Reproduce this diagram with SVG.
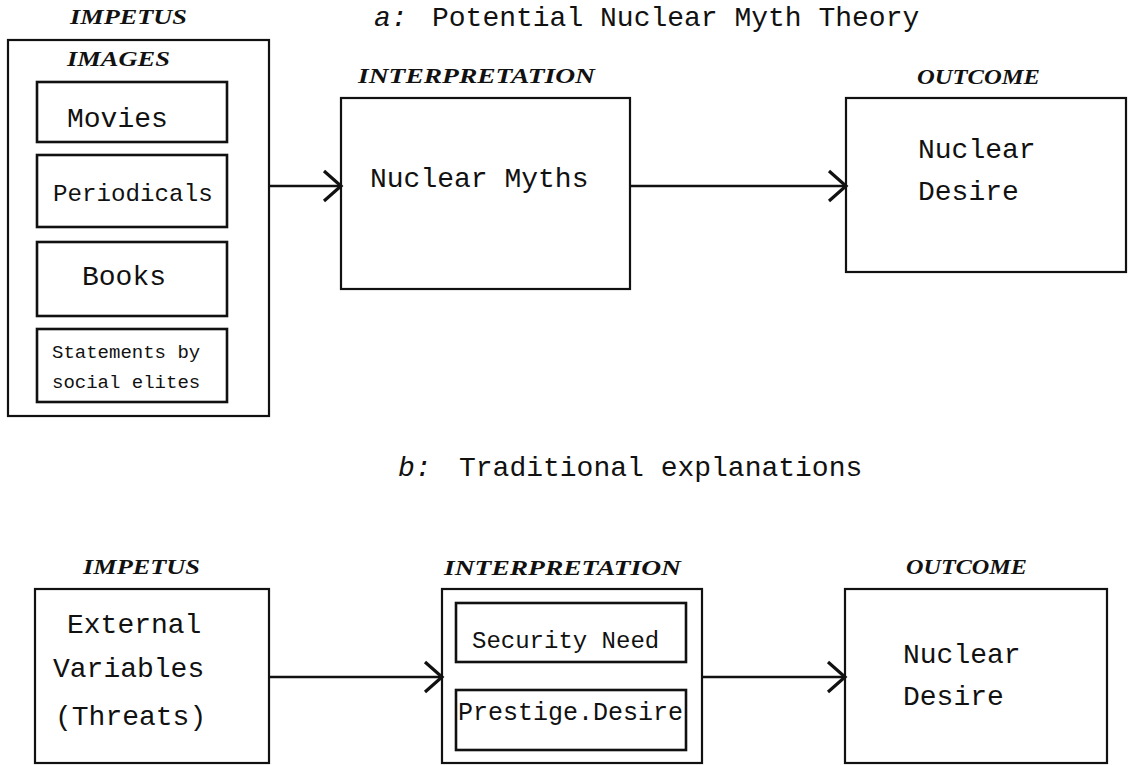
<svg xmlns="http://www.w3.org/2000/svg" width="1128" height="765" viewBox="0 0 1128 765">
<defs>
<style>
.box{fill:none;stroke:#111;stroke-width:2.2}
.ibox{fill:none;stroke:#111;stroke-width:2.6}
.t{font-family:"Liberation Mono","Courier New",monospace;fill:#111}
.lbl{font-family:"Liberation Serif","Times New Roman",serif;font-weight:bold;font-style:italic;fill:#111;font-size:21px}
.conn{fill:none;stroke:#111;stroke-width:2.4}
</style>
<marker id="arr" markerWidth="20" markerHeight="34" refX="18" refY="16" orient="auto" markerUnits="userSpaceOnUse" overflow="visible">
<path d="M1 1 L18 16 L1 31" fill="none" stroke="#111" stroke-width="3.2"/>
</marker>
</defs>
<rect width="1128" height="765" fill="#fff"/>

<g id="title-a">
<text class="t" x="374" y="26" font-size="28" font-style="italic">a:</text>
<text class="t" x="432" y="26" font-size="28">Potential Nuclear Myth Theory</text>
</g>
<g id="title-b">
<text class="t" x="398" y="476" font-size="28" font-style="italic">b:</text>
<text class="t" x="459" y="476" font-size="28">Traditional explanations</text>
</g>

<g id="a-impetus">
<text class="lbl" x="70" y="24" textLength="117" lengthAdjust="spacingAndGlyphs">IMPETUS</text>
<rect class="box" x="8" y="40" width="261" height="376"/>
<text class="lbl" x="67" y="66" textLength="103" lengthAdjust="spacingAndGlyphs">IMAGES</text>
</g>
<g id="a-movies">
<rect class="ibox" x="37" y="82" width="190" height="60"/>
<text class="t" x="67" y="127" font-size="28">Movies</text>
</g>
<g id="a-periodicals">
<rect class="ibox" x="37" y="155" width="190" height="72"/>
<text class="t" x="53" y="201" font-size="24.2">Periodicals</text>
</g>
<g id="a-books">
<rect class="ibox" x="37" y="242" width="190" height="74"/>
<text class="t" x="82" y="285" font-size="28">Books</text>
</g>
<g id="a-statements">
<rect class="ibox" x="37" y="329" width="190" height="73"/>
<text class="t" x="52" y="358" font-size="19">Statements by</text>
<text class="t" x="52" y="388" font-size="19">social elites</text>
</g>

<g id="a-interpretation">
<text class="lbl" x="358" y="83" textLength="237" lengthAdjust="spacingAndGlyphs">INTERPRETATION</text>
<rect class="box" x="341" y="98" width="289" height="191"/>
<text class="t" x="370" y="187" font-size="28">Nuclear Myths</text>
</g>

<g id="a-outcome">
<text class="lbl" x="917" y="84" textLength="123" lengthAdjust="spacingAndGlyphs">OUTCOME</text>
<rect class="box" x="846" y="98" width="280" height="174"/>
<text class="t" x="918" y="158" font-size="28">Nuclear</text>
<text class="t" x="918" y="200" font-size="28">Desire</text>
</g>

<g id="b-impetus">
<text class="lbl" x="83" y="574" textLength="117" lengthAdjust="spacingAndGlyphs">IMPETUS</text>
<rect class="box" x="35" y="589" width="234" height="174"/>
<text class="t" x="67" y="633" font-size="28">External</text>
<text class="t" x="53" y="677" font-size="28">Variables</text>
<text class="t" x="55" y="725" font-size="28">(Threats)</text>
</g>

<g id="b-interpretation">
<text class="lbl" x="444" y="575" textLength="237" lengthAdjust="spacingAndGlyphs">INTERPRETATION</text>
<rect class="box" x="442" y="589" width="260" height="174"/>
</g>
<g id="b-security">
<rect class="ibox" x="456" y="603" width="230" height="59"/>
<text class="t" x="472" y="648" font-size="24">Security Need</text>
</g>
<g id="b-prestige">
<rect class="ibox" x="456" y="690" width="230" height="60"/>
<text class="t" x="458" y="720" font-size="25">Prestige.Desire</text>
</g>

<g id="b-outcome">
<text class="lbl" x="906" y="574" textLength="121" lengthAdjust="spacingAndGlyphs">OUTCOME</text>
<rect class="box" x="845" y="589" width="262" height="174"/>
<text class="t" x="903" y="663" font-size="28">Nuclear</text>
<text class="t" x="903" y="705" font-size="28">Desire</text>
</g>

<g id="connectors">
<line class="conn" x1="269" y1="186" x2="341" y2="186" marker-end="url(#arr)"/>
<line class="conn" x1="630" y1="186" x2="846" y2="186" marker-end="url(#arr)"/>
<line class="conn" x1="269" y1="677" x2="442" y2="677" marker-end="url(#arr)"/>
<line class="conn" x1="702" y1="677" x2="845" y2="677" marker-end="url(#arr)"/>
</g>
</svg>
